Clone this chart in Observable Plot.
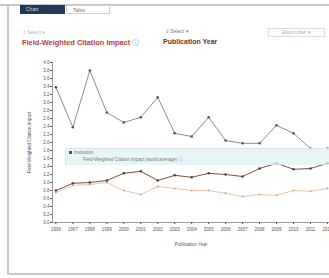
<!DOCTYPE html>
<html><head><meta charset="utf-8">
<script src="https://cdn.jsdelivr.net/npm/d3@7"></script>
<script src="https://cdn.jsdelivr.net/npm/@observablehq/plot@0.6"></script>
<style>
body{margin:0;background:#fff;font-family:"Liberation Sans",Arial,sans-serif;}
#wrap{position:relative;width:329px;height:278px;overflow:hidden;background:#fff;}
.abs{position:absolute;white-space:nowrap;}
</style></head><body>
<div id="wrap">
  <div class="abs" style="left:0;top:4px;width:329px;height:2px;background:#c8c8c8"></div>
  <div class="abs" style="left:7px;top:5px;width:2px;height:270px;background:#c8c8c8"></div>
  <div class="abs" style="left:7px;top:273px;width:322px;height:2px;background:#c8c8c8"></div>
  <div class="abs" style="left:20px;top:5px;width:45px;height:9px;background:#1f3a56;color:#cfd8e0;font-size:5px;line-height:9px;padding-left:6px;box-sizing:border-box">Chart</div>
  <div class="abs" style="left:66px;top:5px;width:44px;height:9px;border:1px solid #cfcfcf;box-sizing:border-box;color:#777;font-size:5px;line-height:8px;padding-left:6px">Table</div>
  <div class="abs" style="left:23px;top:29px;font-size:5px;color:#888">↕ <span style="color:#9bb">Select ▾</span></div>
  <div class="abs" style="left:166px;top:28px;font-size:5px;color:#888">≡ <span style="color:#777">Select ▾</span></div>
  <div class="abs" style="left:268px;top:28px;width:57px;height:9px;border:1px solid #ddd;box-sizing:border-box;font-size:4.5px;color:#aaa;line-height:8px;text-align:center">Export chart ▾</div>
  <div class="abs" style="left:22px;top:38px;font-size:7.4px;font-weight:bold;color:#b8403c">Field-Weighted Citation Impact <span style="color:#6fb3d6;font-weight:normal">ⓘ</span></div>
  <div class="abs" style="left:163px;top:38px;font-size:7px;font-weight:bold;color:#7a2e2a">Publication Year</div>
  <div id="chart" class="abs" style="left:20px;top:55px"></div>
  <div id="legend" class="abs" style="left:65px;top:148px;width:264px;height:17px;background:rgba(222,243,243,0.75);border-left:1px solid #d6e6e6;border-top:1px solid #d6e6e6;box-sizing:border-box;font-size:4.5px;color:#777"></div>
</div>
<script>
const years = [1996,1997,1998,1999,2000,2001,2002,2003,2004,2005,2006,2007,2008,2009,2010,2011,2012];
const entityFWCI = [3.38,2.38,3.80,2.75,2.50,2.63,3.13,2.23,2.15,2.63,2.05,1.98,1.98,2.43,2.23,1.85,1.85];
const comparisonA = [0.80,0.98,1.00,1.05,1.23,1.28,1.05,1.18,1.13,1.23,1.20,1.15,1.35,1.48,1.33,1.35,1.48];
const comparisonB = [0.75,0.93,0.95,1.00,0.80,0.70,0.90,0.85,0.80,0.80,0.73,0.65,0.70,0.68,0.80,0.78,0.85];
const yTicks = d3.range(0, 4.01, 0.2);
const legendNames = ["Institution", "Field-Weighted Citation Impact (world average)"];

const mk = (vals, name) => years.map((y, i) => ({year: y, v: vals[i], s: name}));
const dTop = mk(entityFWCI, "top"), dA = mk(comparisonA, "a"), dB = mk(comparisonB, "b");

const chart = Plot.plot({
  width: 309, height: 200,
  marginLeft: 32, marginRight: 0, marginTop: 7, marginBottom: 33,
  style: {fontFamily: "Liberation Sans, Arial, sans-serif", fontSize: "5px", color: "#555", background: "transparent"},
  x: {domain: [1995.8, 2012.12]},
  y: {domain: [0, 4]},
  marks: [
    Plot.ruleX([1995.8], {stroke: "#999"}),
    Plot.ruleY([0], {stroke: "#999"}),
    Plot.axisY({ticks: yTicks, tickFormat: d3.format(".1f"), tickSize: 2, tickPadding: 1, fontSize: 4.5,
      label: "Field-Weighted Citation Impact", labelAnchor: "center", labelOffset: 25, labelArrow: "none"}),
    Plot.axisX({ticks: years, tickFormat: d => String(d), tickSize: 2, tickPadding: 3, fontSize: 4.5,
      label: "Publication Year", labelAnchor: "center", labelOffset: 23, labelArrow: "none"}),
    Plot.line(dB, {x: "year", y: "v", stroke: "#eec39e", strokeWidth: 1}),
    Plot.dot(dB, {x: "year", y: "v", r: 1, fill: "#aaa"}),
    Plot.line(dA, {x: "year", y: "v", stroke: "#8a4a44", strokeWidth: 1}),
    Plot.dot(dA, {x: "year", y: "v", r: 1.3, fill: "#444"}),
    Plot.line(dTop, {x: "year", y: "v", stroke: "#8c8c8c", strokeWidth: 1}),
    Plot.dot(dTop, {x: "year", y: "v", r: 1.3, fill: "#555"})
  ]
});
document.getElementById("chart").appendChild(chart);

const lg = document.getElementById("legend");
lg.innerHTML = `<div style="position:absolute;left:3px;top:1px"><span style="display:inline-block;width:3px;height:3px;background:#555;margin-right:2px"></span>${legendNames[0]}</div>
<div style="position:absolute;left:17px;top:8px">${legendNames[1]} <span style="color:#8bc">ⓘ</span></div>`;
</script>
</body></html>
